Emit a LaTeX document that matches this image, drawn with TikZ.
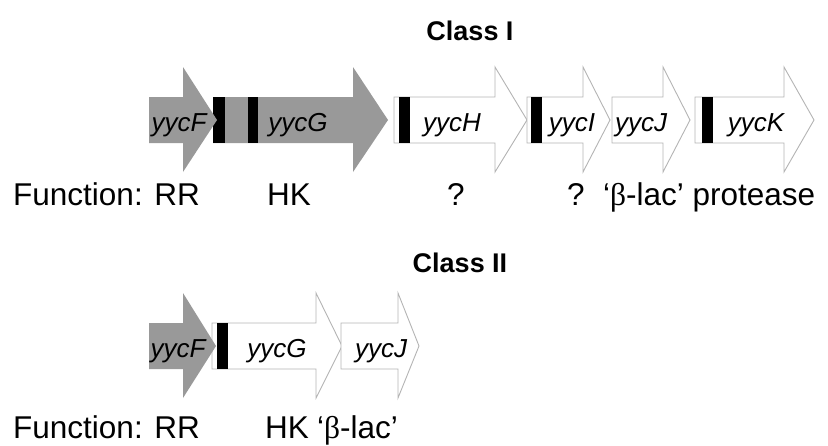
\documentclass[tikz,border=0pt]{standalone}
\usepackage{fontspec}
\setmainfont{Liberation Sans}
\newfontfamily\greekserif{Liberation Serif}
\definecolor{genegray}{HTML}{999999}
\definecolor{edgegray}{HTML}{B4B4B4}
\tikzset{
  graygene/.style={fill=genegray},
  whitegene/.style={fill=white, draw=edgegray, line width=0.9pt},
  startbar/.style={fill=black},
  genelabel/.style={font=\fontsize{26}{28}\selectfont\itshape, anchor=base, inner sep=0pt},
  funclabel/.style={font=\fontsize{31.5}{34}\selectfont, anchor=base west, inner sep=0pt},
  classtitle/.style={font=\fontsize{27}{30}\selectfont\bfseries, anchor=base, inner sep=0pt}
}
% gene arrow: start x, head start x, tip x, centre y, style
\newcommand\genearrow[5]{%
  \path[#5] (#1,#4-23) -- (#2,#4-23) -- (#2,#4-53) -- (#3,#4)
    -- (#2,#4+52) -- (#2,#4+23) -- (#1,#4+23) -- cycle;}
% start-codon bar: left x, right x, centre y
\newcommand\genebar[3]{\path[startbar] (#1,#3-23) rectangle (#2,#3+23);}
\begin{document}
\begin{tikzpicture}[x=1pt, y=-1pt]
\useasboundingbox (0,0) rectangle (828,445);

% ---------- Class I ----------
\node[classtitle] (titleI) at (470,40) {Class I};

\genearrow{213}{353}{388}{120}{graygene}
\genebar{213}{225}{120}
\genebar{248}{258}{120}
\genearrow{149}{183}{217}{120}{graygene}
\genearrow{394}{495}{527}{120}{whitegene}
\genebar{399}{410}{120}
\genearrow{527}{583}{610}{120}{whitegene}
\genebar{531}{542}{120}
\genearrow{612}{663}{690}{120}{whitegene}
\genearrow{695}{784}{814}{120}{whitegene}
\genebar{702}{713}{120}

\node[genelabel] (IF) at (179,131) {yycF};
\node[genelabel] (IG) at (298,131) {yycG};
\node[genelabel] (IH) at (452,131) {yycH};
\node[genelabel] (II) at (572,131) {yycI};
\node[genelabel] (IJ) at (641,131) {yycJ};
\node[genelabel] (IK) at (756,131) {yycK};

\node[funclabel] (fI)  at (13,205)  {Function: RR};
\node[funclabel] (hkI) at (267,205) {HK};
\node[funclabel] (qH)  at (447,205) {?};
\node[funclabel] (qI)  at (567,205) {?};
\node[funclabel] (pI)  at (603,205) {‘{\greekserif β}-lac’ protease};

% ---------- Class II ----------
\node[classtitle] (titleII) at (460,272) {Class II};

\genearrow{212}{316}{342}{346}{whitegene}
\genebar{217}{228}{346}
\genearrow{149}{183}{216}{346}{graygene}
\genearrow{341}{398}{419}{346}{whitegene}

\node[genelabel] (IIF) at (178,357) {yycF};
\node[genelabel] (IIG) at (277,357) {yycG};
\node[genelabel] (IIJ) at (381,357) {yycJ};

\node[funclabel] (fII)  at (13,438)  {Function: RR};
\node[funclabel] (hkII) at (265,438) {HK};
\node[funclabel] (bII)  at (317,438) {‘{\greekserif β}-lac’};
\end{tikzpicture}
\end{document}
